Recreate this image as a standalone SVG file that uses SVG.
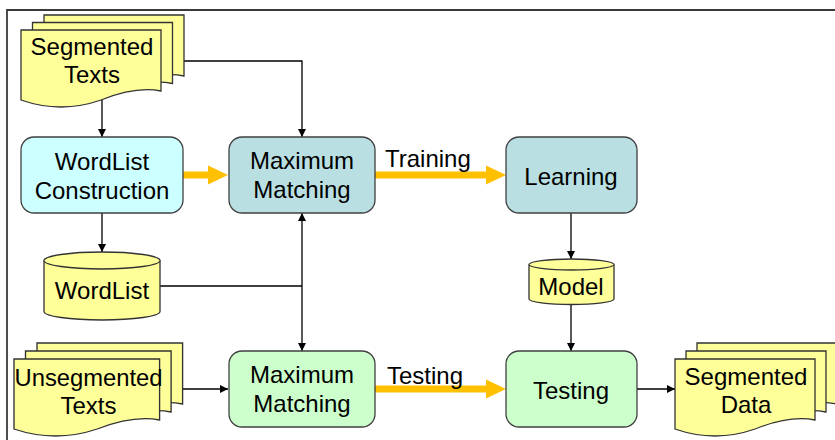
<svg xmlns="http://www.w3.org/2000/svg" width="835" height="440" viewBox="0 0 835 440">
  <defs>
    <style>
      .frame { fill: none; stroke: #3a3a3a; stroke-width: 1.8; }
      .doc { fill: #FFFF99; stroke: #333; stroke-width: 1.3; }
      .db { fill: #FFFF99; stroke: #333; stroke-width: 1.3; }
      .proc { stroke: #404040; stroke-width: 1.3; }
      .cyan { fill: #CCFFFF; }
      .teal { fill: #B9DFE3; }
      .green { fill: #CCFFCC; }
      .lbl { font-family: "Liberation Sans", Arial, sans-serif; font-size: 24px; fill: #000; text-anchor: middle; }
      .elbl { font-family: "Liberation Sans", Arial, sans-serif; font-size: 24px; fill: #000; }
      .wire { fill: none; stroke: #000; stroke-width: 1.3; }
      .flow { fill: none; stroke: #FFC000; stroke-width: 7; }
    </style>
    <!-- stacked document page, origin at its top-left corner -->
    <path id="page" d="M0,0 H140 V61 Q115,56 80,70 Q40,84 0,70 Z"/>
    <marker id="arr" viewBox="0 0 10 10" refX="10" refY="5" markerWidth="8" markerHeight="8" markerUnits="userSpaceOnUse" orient="auto-start-reverse">
      <path d="M0,0 L10,5 L0,10 Z" fill="#000"/>
    </marker>
  </defs>

  <rect width="835" height="440" fill="#fff"/>
  <path class="frame" d="M7,440 V10 H835"/>

  <!-- connectors -->
  <g id="connectors">
    <line class="wire" x1="102" y1="99" x2="102" y2="137" marker-end="url(#arr)"/>
    <polyline class="wire" points="183,61 302,61 302,137" marker-end="url(#arr)"/>
    <line class="wire" x1="102" y1="213" x2="102" y2="252" marker-end="url(#arr)"/>
    <line class="wire" x1="160" y1="286" x2="302" y2="286"/>
    <line class="wire" x1="302" y1="213" x2="302" y2="351" marker-start="url(#arr)" marker-end="url(#arr)"/>
    <line class="wire" x1="183" y1="389" x2="228" y2="389" marker-end="url(#arr)"/>
    <line class="wire" x1="571" y1="213" x2="571" y2="259" marker-end="url(#arr)"/>
    <line class="wire" x1="571" y1="304" x2="571" y2="351" marker-end="url(#arr)"/>
    <line class="wire" x1="637" y1="389" x2="675" y2="389" marker-end="url(#arr)"/>

    <!-- thick flow arrows -->
    <line class="flow" x1="183" y1="175" x2="209" y2="175"/>
    <polygon points="208,165.5 228,175 208,184.5" fill="#FFC000"/>
    <line class="flow" x1="375" y1="175" x2="487" y2="175"/>
    <polygon points="486,165.5 506,175 486,184.5" fill="#FFC000"/>
    <line class="flow" x1="375" y1="389" x2="487" y2="389"/>
    <polygon points="486,379.5 506,389 486,398.5" fill="#FFC000"/>
    <text class="elbl" x="385" y="167">Training</text>
    <text class="elbl" x="387" y="384">Testing</text>
  </g>

  <!-- nodes -->
  <g id="segmented-texts">
    <use href="#page" class="doc" x="44" y="15"/>
    <use href="#page" class="doc" x="32.5" y="22.5"/>
    <use href="#page" class="doc" x="21" y="30"/>
    <text class="lbl" x="92" y="55">Segmented</text>
    <text class="lbl" x="92" y="83">Texts</text>
  </g>

  <g id="wordlist-construction">
    <rect class="proc cyan" x="21" y="137" width="162" height="76" rx="13"/>
    <text class="lbl" x="102" y="170">WordList</text>
    <text class="lbl" x="102" y="199">Construction</text>
  </g>

  <g id="maximum-matching-train">
    <rect class="proc teal" x="229" y="137" width="146" height="76" rx="13"/>
    <text class="lbl" x="302" y="169">Maximum</text>
    <text class="lbl" x="302" y="198">Matching</text>
  </g>

  <g id="learning">
    <rect class="proc teal" x="506" y="137" width="131" height="76" rx="13"/>
    <text class="lbl" x="571" y="185">Learning</text>
  </g>

  <g id="wordlist">
    <path class="db" d="M44,260.5 A58,8.5 0 0 1 160,260.5 V311.5 A58,8.5 0 0 1 44,311.5 Z"/>
    <path class="db" fill="none" d="M44,260.5 A58,8.5 0 0 0 160,260.5"/>
    <text class="lbl" x="102" y="299">WordList</text>
  </g>

  <g id="model">
    <path class="db" d="M529,264.5 A42.5,5.5 0 0 1 614,264.5 V299 A42.5,5.5 0 0 1 529,299 Z"/>
    <path class="db" fill="none" d="M529,264.5 A42.5,5.5 0 0 0 614,264.5"/>
    <text class="lbl" x="571" y="295">Model</text>
  </g>

  <g id="unsegmented-texts">
    <use href="#page" class="doc" x="37" y="343" transform="translate(37,343) scale(1.04,1) translate(-37,-343)"/>
    <use href="#page" class="doc" x="25.5" y="351" transform="translate(25.5,351) scale(1.04,1) translate(-25.5,-351)"/>
    <use href="#page" class="doc" x="14" y="359" transform="translate(14,359) scale(1.04,1) translate(-14,-359)"/>
    <text class="lbl" x="88.5" y="386" textLength="148" lengthAdjust="spacingAndGlyphs">Unsegmented</text>
    <text class="lbl" x="88.5" y="414">Texts</text>
  </g>

  <g id="maximum-matching-test">
    <rect class="proc green" x="229" y="351" width="146" height="76" rx="13"/>
    <text class="lbl" x="302" y="383">Maximum</text>
    <text class="lbl" x="302" y="412">Matching</text>
  </g>

  <g id="testing">
    <rect class="proc green" x="506" y="351" width="131" height="76" rx="13"/>
    <text class="lbl" x="571" y="399">Testing</text>
  </g>

  <g id="segmented-data">
    <use href="#page" class="doc" x="697" y="343"/>
    <use href="#page" class="doc" x="686" y="351"/>
    <use href="#page" class="doc" x="675" y="359"/>
    <text class="lbl" x="746" y="385">Segmented</text>
    <text class="lbl" x="746" y="413">Data</text>
  </g>
</svg>
